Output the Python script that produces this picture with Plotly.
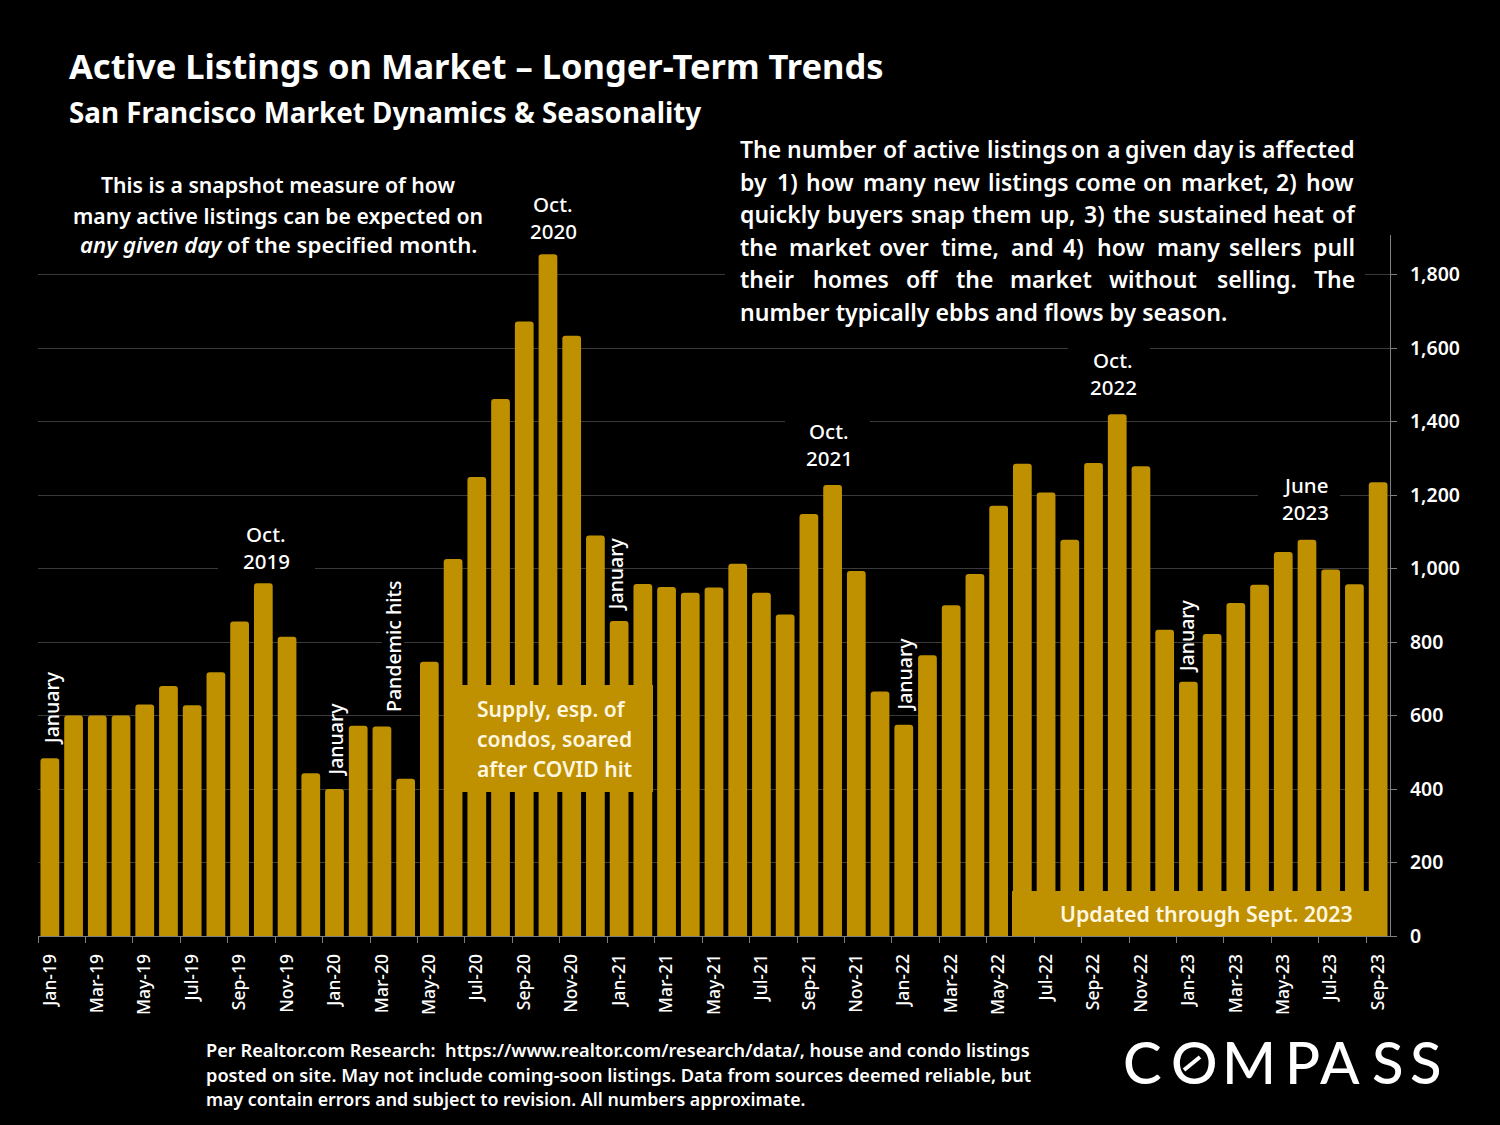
import plotly.graph_objects as go

months = ["Jan","Feb","Mar","Apr","May","Jun","Jul","Aug","Sep","Oct","Nov","Dec"]
categories = [f"{m}-{y}" for y in (19,20,21,22) for m in months] + [f"{m}-23" for m in months[:9]]
listings = [484,600,600,600,630,680,628,718,856,960,814,443,
            400,572,570,428,746,1026,1249,1461,1672,1855,1633,1090,
            857,958,950,934,948,1013,934,875,1148,1227,993,665,
            575,764,900,985,1171,1285,1207,1078,1287,1420,1278,833,
            692,822,906,956,1045,1078,997,957,1235]
y_ticks = [0,200,400,600,800,1000,1200,1400,1600,1800]

GOLD = "#BF9000"
FONT = "Noto Sans"
W, H = 1500, 1125
L, R, T, B = 38, 1390, 235, 936
UNIT = 73.5 / 200
idx = list(range(len(categories)))

fig = go.Figure(go.Bar(x=idx, y=listings, marker=dict(color=GOLD, line_width=0), width=0.79))

def px(x): return (x - L) / (R - L)
def py(y): return (B - y) / (B - T)

def text(s, x, y, size=21.2, anchor="left", weight=600, color="white", **kw):
    off = {"left": -2, "center": 0, "right": 2}[anchor]
    fig.add_annotation(text=s, x=px(x + off), y=py(y - 1), xref="paper", yref="paper", showarrow=False,
                       xanchor=anchor, yanchor="middle", align=anchor,
                       font=dict(family=FONT, size=size, color=color, weight=weight), **kw)

def box(x0, y0, x1, y1, color="black"):
    fig.add_shape(type="rect", xref="paper", yref="paper", x0=px(x0), x1=px(x1), y0=py(y0), y1=py(y1),
                  fillcolor=color, line_width=0, layer="above")

# gaps in gridlines behind labels and panels
box(725, 135, 1365, 331)
box(218, 520, 315, 576)
box(785, 412, 870, 472)
box(1068, 340, 1150, 402)
box(1258, 472, 1340, 528)
box(382, 575, 404, 712)
box(462, 685, 653, 792, GOLD)
box(1012, 891, 1387, 936, GOLD)

text("Active Listings on Market – Longer-Term Trends", 69, 66, size=34.5, weight=700)
text("San Francisco Market Dynamics &amp; Seasonality", 69, 113, size=27.8, weight=700)

text("This is a snapshot measure of how", 278, 186, anchor="center")
text("many active listings can be expected on", 278, 216, anchor="center")
text("<i>any given day</i> of the specified month.", 278, 246, size=22.2, anchor="center")

para_words = [
    ["The","number","of","active","listings","on","a","given","day","is","affected"],
    ["by","1)","how","many","new","listings","come","on","market,","2)","how"],
    ["quickly","buyers","snap","them","up,","3)","the","sustained","heat","of"],
    ["the","market","over","time,","and","4)","how","many","sellers","pull"],
    ["their","homes","off","the","market","without","selling.","The"],
]
para_x = [
    [740,787,883,913,987,1071,1107,1125,1193,1238,1262],
    [740,777,806,863,933,988,1075,1143,1181,1276,1306],
    [740,827,911,972,1040,1084,1113,1158,1273,1332],
    [740,789,879,941,1011,1063,1097,1157,1229,1313],
    [740,813,906,956,1010,1109,1217,1314],
]
para_y = [150, 183, 215, 248, 280]
for words, xs, y in zip(para_words, para_x, para_y):
    for w, x in zip(words, xs):
        text(w, x, y, size=23)
text("number typically ebbs and flows by season.", 740, 313, size=23.1)

# labels tied to bars
for i, lab, dy, dx in [(0,"January",11,1),(12,"January",11,1),(14,"Pandemic hits",13,11),
                       (24,"January",8,-4),(36,"January",11,1),(48,"January",7,-2)]:
    fig.add_annotation(x=i, y=listings[i], text=lab, textangle=-90, showarrow=False, xref="x", yref="y",
                       yanchor="bottom", xanchor="center", yshift=dy, xshift=dx,
                       font=dict(family=FONT, size=19.5, color="white", weight=500))

for x, y1, y2, a, b in [(266,535,562,"Oct.","2019"),(553,205,232,"Oct.","2020"),(829,432,459,"Oct.","2021"),
                        (1113,361,388,"Oct.","2022"),(1305,486,513,"June","2023")]:
    text(a, x, y1, size=20.5, anchor="center", weight=500)
    text(b, x, y2, size=20.5, anchor="center", weight=500)

for s, y in [("Supply, esp. of",709),("condos, soared",739),("after COVID hit",769)]:
    text(s, 477, y, size=21.1, color="#FFF7E0")
text("Updated through Sept. 2023", 1060, 914, size=21.4, color="#FFF7E0")

for s, y, sz in [("Per Realtor.com Research:  https://www.realtor.com/research/data/, house and condo listings",1051,18.2),
                 ("posted on site. May not include coming-soon listings. Data from sources deemed reliable, but",1076,18.2),
                 ("may contain errors and subject to revision. All numbers approximate.",1100,17.8)]:
    text(s.replace("  ", "\u00a0 "), 206, y, size=sz)

# wordmark
for ch, x in zip("COMPASS", [1142,1194,1249,1302,1340,1388,1426]):
    fig.add_annotation(text=ch, x=px(x), y=py(1061), xref="paper", yref="paper", showarrow=False,
                       xanchor="center", yanchor="middle",
                       font=dict(family="Lato", size=58, color="white", weight=500))
fig.add_shape(type="line", xref="paper", yref="paper", x0=px(1184), x1=px(1200), y0=py(1070), y1=py(1057),
              line=dict(color="white", width=4), layer="above")

fig.update_layout(
    width=W, height=H, paper_bgcolor="black", plot_bgcolor="black", showlegend=False,
    barcornerradius=3,
    margin=dict(l=L, r=W-R, t=T, b=H-B, pad=0),
    font=dict(family=FONT, color="white"),
    xaxis=dict(range=[-0.5, 56.5], tickmode="array", tickvals=idx[::2], ticktext=categories[::2],
               tickangle=-90, ticks="", showgrid=False, zeroline=False, showline=True,
               linecolor="#7f7f7f", linewidth=1, ticklabelstandoff=10,
               tickfont=dict(family=FONT, size=17.5, color="white", weight=500),
               minor=dict(tickmode="array", tickvals=[i - 0.5 for i in idx[::2]], ticks="outside",
                          ticklen=6, tickcolor="#7f7f7f", tickwidth=1, showgrid=False)),
    yaxis=dict(range=[0, (B - T) / UNIT], side="right", tickmode="array", tickvals=y_ticks,
               tickformat=",", ticks="outside", ticklen=6, tickcolor="#7f7f7f", showline=True,
               linecolor="#7f7f7f", linewidth=1, gridcolor="#3a3a3a", gridwidth=1, zeroline=False,
               ticklabelstandoff=9,
               tickfont=dict(family=FONT, size=19.5, color="white", weight=600)),
)
fig.write_html("out.html", config={"displayModeBar": False},
               post_script="document.body.style.margin='0';")
